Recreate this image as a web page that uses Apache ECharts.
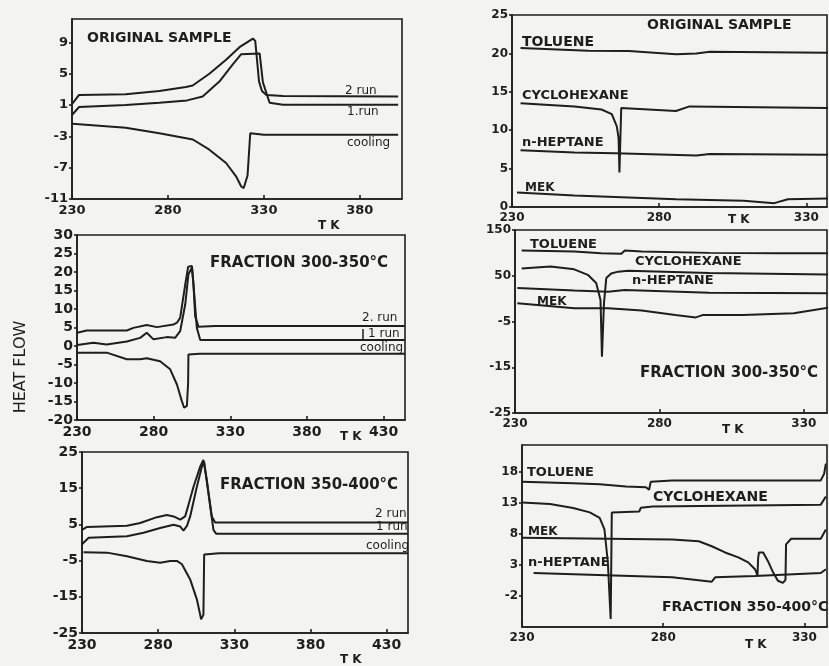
<!DOCTYPE html>
<html>
<head>
<meta charset="utf-8">
<script src="https://cdn.jsdelivr.net/npm/echarts@6/dist/echarts.min.js"></script>
<style>
html,body{margin:0;padding:0;background:#f3f3f2;}
#c{width:829px;height:666px;}
</style>
</head>
<body>
<div id="c"></div>
<script>
// ---------- DATA: [T (K), heat flow] ----------
// Panel A: original sample (DSC)
const A_run2 = [[230.2,1.2],[233.7,2.3],[258,2.4],[275.5,2.8],[289.4,3.3],[292.9,3.5],[301.6,5.0],[310.3,6.8],[317.3,8.4],[324.3,9.5],[325.5,9.2],[327.5,4.0],[329,2.8],[331.3,2.3],[340,2.15],[400,2.1]];
const A_run1 = [[230.2,-0.2],[233.7,0.75],[258,1.0],[275.5,1.3],[290,1.6],[298.1,2.1],[306.8,4.0],[313.8,6.2],[318.2,7.5],[319,7.6],[327.8,7.6],[329.5,3.9],[333,1.3],[340,1.05],[400,1.05]];
const A_cool = [[230.2,-1.4],[258,-1.9],[275.5,-2.6],[293,-3.4],[301.6,-4.7],[310.3,-6.4],[315.5,-8.1],[318.2,-9.4],[319.5,-9.6],[321.5,-8.0],[322.9,-2.6],[330,-2.8],[400,-2.8]];
// Panel B: fraction 300-350 C
const B_run2 = [[230.2,3.6],[236.3,4.2],[262.5,4.2],[266.8,4.9],[275.5,5.7],[282.1,5.1],[292.9,5.8],[295.2,6.3],[297.3,7.6],[300.6,16.6],[302.5,21.4],[305,21.6],[306,16.6],[307.1,8.0],[309.3,5.2],[320,5.4],[444,5.4]];
const B_run1 = [[230.2,0.3],[240.7,0.9],[249.4,0.4],[262.5,1.2],[271.2,2.2],[275.5,3.6],[279.9,1.8],[288.6,2.4],[294,2.2],[297.3,4.0],[300.6,11.2],[302.7,19.4],[305,21.2],[306,16.6],[308.2,4.9],[310.4,1.6],[444,1.6]];
const B_cool = [[230.2,-1.8],[249.4,-1.8],[262.5,-3.6],[271.2,-3.6],[275.5,-3.3],[284.2,-4.1],[290.8,-6.3],[295.2,-10.4],[298.4,-14.9],[299.9,-16.7],[301.7,-16.2],[302.5,-10.0],[302.7,-2.3],[310,-2.1],[444,-2.1]];
// Panel C: fraction 350-400 C
const C_run2 = [[230,3.5],[233.3,4.3],[259.5,4.6],[268.2,5.4],[279.2,7.0],[285.7,7.6],[290.1,7.2],[294.5,6.3],[297.7,7.2],[299.9,10.4],[303.2,15.4],[307.6,21.0],[309.7,22.8],[311.9,17.3],[315.2,7.2],[317.4,5.5],[444,5.5]];
const C_run1 = [[230,-0.5],[234.4,1.3],[259.5,1.7],[270.4,2.7],[281.3,4.0],[290.1,4.9],[294.5,4.4],[296.6,3.3],[298.9,4.6],[301,7.2],[305.4,15.4],[308.7,21.0],[310.2,22.3],[313,13.6],[316.3,3.5],[318.1,2.4],[444,2.4]];
const C_cool = [[231,-2.7],[246.4,-2.8],[259.5,-3.8],[272.6,-5.1],[281.3,-5.6],[287.9,-5.1],[292.3,-5.1],[295.6,-6.0],[301,-10.2],[305.4,-15.7],[308.2,-21.2],[309.7,-20.0],[310.2,-3.3],[320,-3.0],[444,-3.0]];
// Panel D: original sample in solvents
const D_tol = [[232.9,20.7],[255.9,20.35],[269.7,20.3],[285.7,19.9],[292.6,20.0],[297.2,20.2],[337.4,20.1],[338.6,20.5]];
const D_cyc = [[232.9,13.5],[251.2,13.1],[260.4,12.7],[263.9,12.1],[265.6,10.5],[266.2,9.0],[266.5,4.5],[266.9,4.5],[267.1,12.9],[285.7,12.5],[290.3,13.1],[337.4,12.9],[338.6,13.8]];
const D_hep = [[232.9,7.4],[251.2,7.1],[265,7.0],[274.2,6.9],[292.6,6.7],[297.2,6.9],[337.4,6.8]];
const D_mek = [[231.7,1.9],[251.2,1.5],[285.7,1.0],[308.7,0.8],[319.1,0.5],[323.7,1.0],[338.6,1.1]];
// Panel E: fraction 300-350 C in solvents
const E_tol = [[232.3,10.5],[250.5,10.3],[259.8,9.9],[266.8,9.8],[268,10.5],[273.9,10.3],[297.3,10.0],[320.6,9.9],[338.2,9.9],[339.4,10.3]];
const E_cyc = [[232.3,6.6],[242.3,7.0],[250.5,6.4],[255.2,5.2],[258.1,3.4],[259.6,-0.3],[260.1,-12.7],[260.8,-1.0],[261.6,4.5],[263.3,5.5],[265.7,5.9],[269.2,6.1],[297.3,5.6],[338.2,5.3],[339.4,5.6]];
const E_hep = [[230.8,2.3],[238.8,2.1],[250.5,1.75],[262.2,1.5],[268,1.9],[297.3,1.3],[338.2,1.2]];
const E_mek = [[230.8,-1.0],[250.5,-2.1],[262.2,-2.1],[273.9,-2.6],[285.5,-3.6],[292.6,-4.1],[294.9,-3.6],[308.9,-3.6],[326.5,-3.2],[339.4,-1.9]];
// Panel F: fraction 350-400 C in solvents
const F_tol = [[230,16.4],[248.1,16.15],[257.5,16.0],[266.8,15.6],[273.9,15.5],[275,15.1],[275.6,16.4],[283.2,16.6],[335.8,16.6],[337,17.7],[337.6,19.3]];
const F_cyc = [[230,13.05],[239.9,12.8],[248.1,12.15],[254,11.45],[257.5,10.55],[259.2,8.7],[260.4,3.4],[261.4,-5.7],[261.6,-5.7],[261.8,11.45],[271.5,11.6],[272.1,12.2],[276.2,12.4],[335.8,12.7],[337.6,14.0]];
const F_mek = [[230,7.35],[283.2,7.1],[292.6,6.8],[297.2,6.0],[301.9,5.0],[306.6,4.2],[310.1,3.4],[312.5,2.3],[313.4,1.3],[313.6,4.0],[313.9,5.0],[315.4,5.0],[317.1,3.6],[318.9,1.8],[320.6,0.45],[322.4,0.1],[323.3,0.6],[323.5,6.3],[325.3,7.2],[335.8,7.2],[337.6,8.7]];
const F_hep = [[234.1,1.7],[259.8,1.35],[283.2,1.0],[297.2,0.3],[298.4,1.0],[312.5,1.2],[318.3,1.35],[335.8,1.7],[337.6,2.3]];

// ---------- TICKS ----------
const xTicksLeftTop = [230,280,330,380];
const xTicksLeft = [230,280,330,380,430];
const xTicksRight = [230,280,330];
const yTicksA = [-11,-7,-3,1,5,9];
const yTicksB = [-20,-15,-10,-5,0,5,10,15,20,25,30];
const yTicksC = [-25,-15,-5,5,15,25];
const yTicksD = [0,5,10,15,20,25];
const yTicksE = [-25,-15,-5,5,15];
const yLabelsE = ['-25','-15','-5','50','150'];
const yTicksF = [-2,3,8,13,18];

// ---------- LAYOUT ----------
const INK = '#1e1e1e';
const FONT = 'DejaVu Sans';
const grids = [
  {left:72, top:19, width:330, height:180},
  {left:77, top:235, width:328, height:185},
  {left:82, top:452, width:326, height:181},
  {left:512, top:15, width:315, height:192},
  {left:515, top:230, width:312, height:183},
  {left:522, top:445, width:305, height:182}
];
const xr = [[230,402],[230,444],[230,444],[230,337],[230,338],[230,338]];
const yr = [[-11,12],[-20,30],[-25,25],[0,25],[-25,15],[-7,22.3]];
const xt = [xTicksLeftTop,xTicksLeft,xTicksLeft,xTicksRight,xTicksRight,xTicksRight];
const yt = [yTicksA,yTicksB,yTicksC,yTicksD,yTicksE,yTicksF];
const lblSize = [13,14,14,12,12,12];

const xAxis = grids.map((g,i)=>({
  type:'value', gridIndex:i, min:xr[i][0], max:xr[i][1],
  axisLine:{show:true,onZero:false,lineStyle:{color:INK,width:1.6}},
  axisTick:{show:true,inside:true,length:4,customValues:xt[i],lineStyle:{color:INK,width:1.6}},
  axisLabel:{customValues:xt[i],color:INK,fontFamily:FONT,fontWeight:'bold',fontSize:lblSize[i],margin:5},
  splitLine:{show:false}
}));
const yAxis = grids.map((g,i)=>({
  type:'value', gridIndex:i, min:yr[i][0], max:yr[i][1],
  axisLine:{show:true,onZero:false,lineStyle:{color:INK,width:1.6}},
  axisTick:{show:true,inside:false,length:3,customValues:yt[i],lineStyle:{color:INK,width:1.6}},
  axisLabel:{customValues:yt[i],color:INK,fontFamily:FONT,fontWeight:'bold',fontSize:lblSize[i],margin:4,
    formatter: i===4 ? (v)=>yLabelsE[yTicksE.indexOf(v)] : (v)=>String(v)},
  splitLine:{show:false}
}));

const seriesData = [
  [A_run2,A_run1,A_cool],[B_run2,B_run1,B_cool],[C_run2,C_run1,C_cool],
  [D_tol,D_cyc,D_hep,D_mek],[E_tol,E_cyc,E_hep,E_mek],[F_tol,F_cyc,F_mek,F_hep]
];
const series = [];
seriesData.forEach((arr,i)=>arr.forEach(d=>series.push({
  type:'line', xAxisIndex:i, yAxisIndex:i, data:d, symbol:'none', smooth:false,
  lineStyle:{color:INK,width:2}, silent:true, animation:false
})));

function t(text,x,y,size,bold){
  return {type:'text', x:x, y:y, silent:true,
    style:{text:text, fill:INK, font:(bold?'bold ':'')+size+'px "'+FONT+'"', textAlign:'left', textVerticalAlign:'middle'}};
}
const graphic = [
  // Panel A
  t('ORIGINAL SAMPLE',87,38,14,true),
  t('2 run',345,91,12,false), t('1.run',347,112,12,false), t('cooling',347,143,12,false),
  t('T K',318,226,12,true),
  // Panel B
  t('FRACTION 300-350°C',210,263,15,true),
  t('2. run',362,318,12,false), t('1 run',368,334,12,false), t('cooling',360,348,12,false),
  {type:'line',silent:true,shape:{x1:363,y1:329,x2:363,y2:341},style:{stroke:INK,lineWidth:1.5}},
  t('T K',340,437,12,true),
  {type:'text',x:21,y:367,rotation:Math.PI/2,silent:true,
   style:{text:'HEAT FLOW',fill:INK,font:'16px "'+FONT+'"',textAlign:'center',textVerticalAlign:'middle'}},
  // Panel C
  t('FRACTION 350-400°C',220,485,15,true),
  t('2 run',375,514,12,false), t('1 run',376,527,12,false), t('cooling',366,546,12,false),
  t('T K',340,660,12,true),
  // Panel D
  t('ORIGINAL SAMPLE',647,25,14,true),
  t('TOLUENE',522,42,14,true), t('CYCLOHEXANE',522,96,13,true),
  t('n-HEPTANE',522,143,13,true), t('MEK',525,188,12,true),
  t('T K',728,220,12,true),
  // Panel E
  t('TOLUENE',530,245,13,true), t('CYCLOHEXANE',635,262,13,true),
  t('n-HEPTANE',632,281,13,true), t('MEK',537,302,12,true),
  t('FRACTION 300-350°C',640,373,15,true),
  t('T K',722,430,12,true),
  // Panel F
  t('TOLUENE',527,473,13,true), t('CYCLOHEXANE',653,497,14,true),
  t('MEK',528,532,12,true), t('n-HEPTANE',528,563,13,true),
  t('FRACTION 350-400°C',662,607,14,true),
  t('T K',745,645,12,true)
];

const chart = echarts.init(document.getElementById('c'), null, {renderer:'canvas'});
chart.setOption({
  backgroundColor:'#f3f3f2',
  animation:false,
  grid: grids.map(g=>Object.assign({show:true,borderColor:INK,borderWidth:1.6,backgroundColor:'transparent'},g)),
  xAxis: xAxis,
  yAxis: yAxis,
  series: series,
  graphic: graphic
});
</script>
</body>
</html>
